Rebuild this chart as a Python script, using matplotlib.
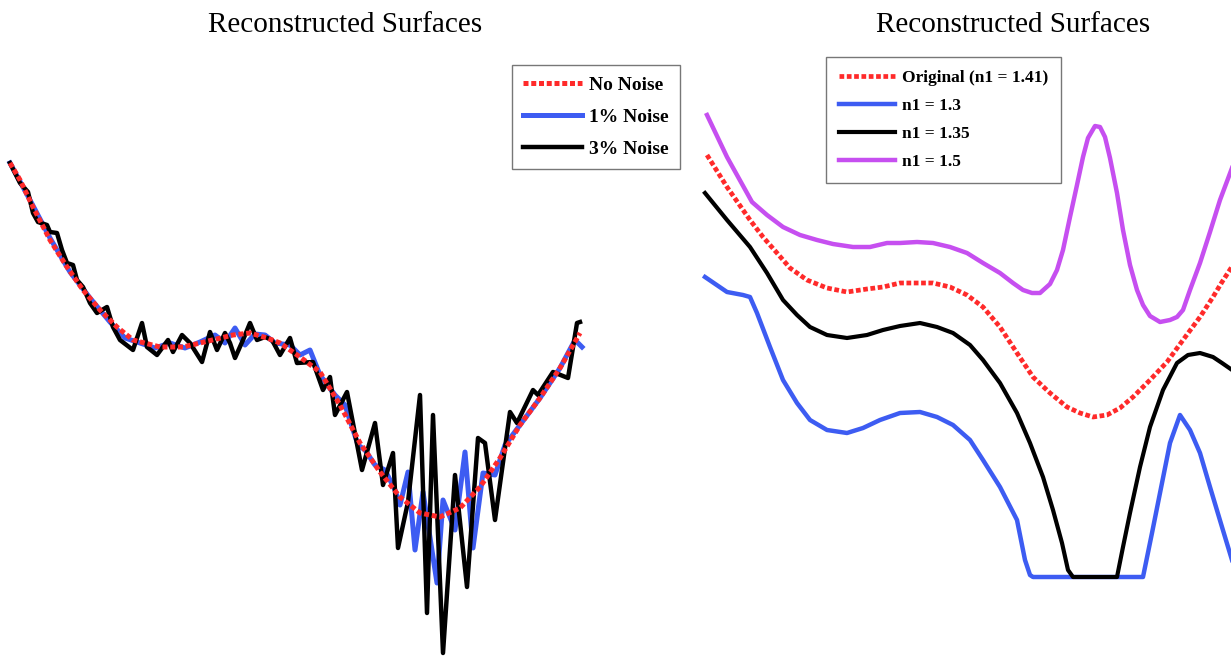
import matplotlib
matplotlib.use("Agg")
import matplotlib.pyplot as plt

# ---- Left panel: reconstruction with noisy measurements ----
no_noise_x = [0.00, 0.10, 0.23, 0.40, 0.57, 0.73, 0.90, 1.07, 1.23, 1.50, 1.73, 1.90,
              2.23, 2.40, 2.57, 2.70, 2.90, 3.10, 3.30, 3.50, 3.70, 3.90, 4.10, 4.30,
              4.50, 4.70, 4.90, 5.10, 5.30, 5.50, 5.70]
no_noise_y = [4.93, 4.76, 4.49, 4.16, 3.89, 3.66, 3.46, 3.29, 3.16, 3.09, 3.09, 3.13,
              3.21, 3.23, 3.18, 3.13, 2.99, 2.84, 2.51, 2.13, 1.84, 1.59, 1.43, 1.39,
              1.48, 1.69, 1.98, 2.31, 2.58, 2.88, 3.23]

noise1_x = [0.00, 0.20, 0.40, 0.60, 0.80, 1.00, 1.15, 1.30, 1.45, 1.60, 1.75, 1.90,
            2.05, 2.15, 2.25, 2.35, 2.45, 2.55, 2.65, 2.80, 2.90, 3.00, 3.10, 3.25,
            3.35, 3.48, 3.55, 3.65, 3.75, 3.85, 3.90, 3.98, 4.05, 4.13, 4.27, 4.33,
            4.45, 4.55, 4.63, 4.73, 4.85, 4.95, 5.10, 5.30, 5.50, 5.65, 5.72]
noise1_y = [4.93, 4.56, 4.18, 3.84, 3.58, 3.34, 3.18, 3.13, 3.08, 3.13, 3.08, 3.14,
            3.21, 3.13, 3.28, 3.11, 3.22, 3.21, 3.13, 3.11, 3.01, 3.06, 2.81, 2.61,
            2.51, 2.11, 2.06, 1.91, 1.86, 1.66, 1.51, 1.84, 1.06, 1.64, 0.73, 1.56,
            1.26, 2.04, 1.08, 1.83, 1.81, 2.11, 2.31, 2.58, 2.88, 3.16, 3.09]

noise3_x = [0.00, 0.10, 0.18, 0.23, 0.28, 0.37, 0.40, 0.47, 0.52, 0.57, 0.63, 0.67,
            0.73, 0.80, 0.87, 0.97, 1.03, 1.10, 1.23, 1.32, 1.37, 1.47, 1.58, 1.63,
            1.72, 1.80, 1.92, 2.00, 2.07, 2.15, 2.20, 2.25, 2.33, 2.40, 2.47, 2.55,
            2.62, 2.70, 2.80, 2.87, 3.03, 3.13, 3.20, 3.25, 3.37, 3.52, 3.65, 3.73,
            3.83, 3.88, 3.98, 4.10, 4.17, 4.23, 4.33, 4.45, 4.57, 4.68, 4.75, 4.85,
            5.00, 5.07, 5.23, 5.28, 5.43, 5.58, 5.67, 5.70]
noise3_y = [4.93, 4.73, 4.64, 4.43, 4.34, 4.31, 4.24, 4.23, 4.06, 3.93, 3.91, 3.76,
            3.69, 3.53, 3.43, 3.49, 3.29, 3.16, 3.06, 3.33, 3.09, 3.01, 3.16, 3.04,
            3.21, 3.13, 2.94, 3.24, 3.06, 3.23, 3.13, 2.98, 3.16, 3.33, 3.16, 3.19,
            3.16, 3.01, 3.18, 2.93, 2.94, 2.66, 2.79, 2.41, 2.64, 1.86, 2.33, 1.71,
            2.03, 1.08, 1.54, 2.61, 0.43, 2.41, 0.03, 1.81, 0.69, 2.18, 2.13, 1.36,
            2.44, 2.33, 2.66, 2.61, 2.84, 2.78, 3.33, 3.34]

# ---- Right panel: reconstruction with different refractive index n1 ----
orig_x = [0.02, 0.22, 0.45, 0.58, 0.72, 0.85, 1.02, 1.22, 1.42, 1.62, 1.78, 1.95,
          2.12, 2.28, 2.45, 2.62, 2.78, 2.95, 3.12, 3.28, 3.45, 3.62, 3.75, 3.88,
          4.02, 4.15, 4.28, 4.45, 4.62, 4.78, 4.95, 5.08, 5.17, 5.30]
orig_y = [5.01, 4.69, 4.36, 4.19, 4.03, 3.88, 3.76, 3.68, 3.64, 3.67, 3.69, 3.73,
          3.73, 3.73, 3.69, 3.61, 3.49, 3.29, 3.03, 2.79, 2.63, 2.49, 2.43, 2.39,
          2.41, 2.48, 2.59, 2.76, 2.94, 3.16, 3.39, 3.59, 3.74, 3.94]

n130_x = [0.00, 0.22, 0.38, 0.45, 0.52, 0.65, 0.78, 0.92, 1.05, 1.22, 1.42, 1.58,
          1.75, 1.95, 2.15, 2.32, 2.48, 2.65, 2.78, 2.95, 3.12, 3.20, 3.25, 3.28,
          4.38, 4.47, 4.57, 4.65, 4.75, 4.85, 4.95, 5.05, 5.17, 5.30]
n130_y = [3.79, 3.64, 3.61, 3.59, 3.43, 3.09, 2.76, 2.53, 2.36, 2.26, 2.23, 2.28,
          2.36, 2.43, 2.44, 2.39, 2.31, 2.16, 1.96, 1.69, 1.36, 0.96, 0.81, 0.79,
          0.79, 1.23, 1.73, 2.13, 2.41, 2.26, 2.03, 1.69, 1.29, 0.86]

n135_x = [0.00, 0.22, 0.45, 0.62, 0.78, 0.92, 1.05, 1.22, 1.42, 1.62, 1.78, 1.95,
          2.15, 2.32, 2.48, 2.65, 2.78, 2.95, 3.12, 3.25, 3.38, 3.48, 3.57, 3.63,
          3.68, 4.12, 4.18, 4.25, 4.35, 4.45, 4.58, 4.72, 4.83, 4.95, 5.08, 5.17,
          5.30]
n135_y = [4.63, 4.36, 4.09, 3.83, 3.56, 3.41, 3.29, 3.21, 3.18, 3.21, 3.26, 3.30,
          3.33, 3.29, 3.23, 3.11, 2.96, 2.73, 2.43, 2.13, 1.79, 1.46, 1.13, 0.86,
          0.79, 0.79, 1.09, 1.43, 1.89, 2.29, 2.66, 2.93, 3.01, 3.03, 2.99, 2.93,
          2.84]

n150_x = [0.02, 0.22, 0.47, 0.62, 0.78, 0.95, 1.12, 1.28, 1.48, 1.65, 1.82, 1.95,
          2.12, 2.28, 2.45, 2.62, 2.78, 2.95, 3.08, 3.18, 3.27, 3.35, 3.45, 3.52,
          3.58, 3.65, 3.72, 3.78, 3.83, 3.90, 3.95, 4.00, 4.05, 4.12, 4.18, 4.25,
          4.32, 4.38, 4.45, 4.55, 4.65, 4.72, 4.78, 4.85, 4.95, 5.05, 5.15, 5.30]
n150_y = [5.41, 4.99, 4.54, 4.41, 4.29, 4.21, 4.16, 4.12, 4.09, 4.09, 4.13, 4.13,
          4.14, 4.13, 4.09, 4.03, 3.93, 3.83, 3.73, 3.66, 3.63, 3.63, 3.72, 3.86,
          4.06, 4.39, 4.71, 4.99, 5.18, 5.30, 5.29, 5.19, 4.98, 4.63, 4.26, 3.91,
          3.66, 3.51, 3.40, 3.34, 3.36, 3.39, 3.46, 3.66, 3.93, 4.24, 4.56, 4.96]

RED = "#ff2a2a"
BLUE = "#3d5cf2"
BLACK = "#000000"
PURPLE = "#c64ff0"
DOTTED = (0, (1.0, 0.55))

plt.rcParams["font.family"] = ["Liberation Serif", "DejaVu Serif"]

W, H = 1231, 656
fig = plt.figure(figsize=(W / 100, H / 100), dpi=100)
fig.patch.set_facecolor("white")

# Left panel
axL = fig.add_axes([0, 0, 680 / W, 1])
axL.plot(noise1_x, noise1_y, color=BLUE, lw=3.6, label="1% Noise", zorder=2)
axL.plot(noise3_x, noise3_y, color=BLACK, lw=3.2, label="3% Noise", zorder=3)
axL.plot(no_noise_x, no_noise_y, color=RED, lw=3.6, linestyle=DOTTED,
         dash_capstyle="butt", label="No Noise", zorder=4)
axL.set_xlim(-0.10, 6.70)
axL.set_ylim(0, 6.56)
axL.axis("off")
hL, lL = axL.get_legend_handles_labels()
order = [2, 0, 1]
legL = axL.legend([hL[i] for i in order], [lL[i] for i in order],
                  loc="upper right", bbox_to_anchor=(1.0, 1 - 65 / H),
                  borderaxespad=0, fancybox=False, edgecolor="#555555",
                  prop={"weight": "bold", "size": 14}, handlelength=3.0,
                  labelspacing=0.75, borderpad=0.57, handletextpad=0.4)
legL.get_frame().set_linewidth(1.0)
axL.text(345 / 680, 1 - 25 / H, "Reconstructed Surfaces", transform=axL.transAxes,
         ha="center", va="center", fontsize=21)

# Right panel
axR = fig.add_axes([700 / W, 0, 531 / W, 1])
axR.plot(orig_x, orig_y, color=RED, lw=3.4, linestyle=DOTTED,
         dash_capstyle="butt", label="Original (n1 = 1.41)", zorder=4)
axR.plot(n130_x, n130_y, color=BLUE, lw=3.2, label="n1 = 1.3", zorder=2)
axR.plot(n135_x, n135_y, color=BLACK, lw=3.0, label="n1 = 1.35", zorder=3)
axR.plot(n150_x, n150_y, color=PURPLE, lw=3.2, label="n1 = 1.5", zorder=2)
axR.set_xlim(-0.05, 5.26)
axR.set_ylim(0, 6.56)
axR.axis("off")
legR = axR.legend(loc="upper left", bbox_to_anchor=((826 - 700) / 531, 1 - 57 / H),
                  borderaxespad=0, fancybox=False, edgecolor="#555555",
                  prop={"weight": "bold", "size": 12.5}, handlelength=3.2,
                  labelspacing=0.68, borderpad=0.75, handletextpad=0.4)
legR.get_frame().set_linewidth(1.0)
fig.text(1013 / W, 1 - 25 / H, "Reconstructed Surfaces", ha="center", va="center",
         fontsize=21)

fig.savefig("out.png", dpi=100, facecolor="white")
